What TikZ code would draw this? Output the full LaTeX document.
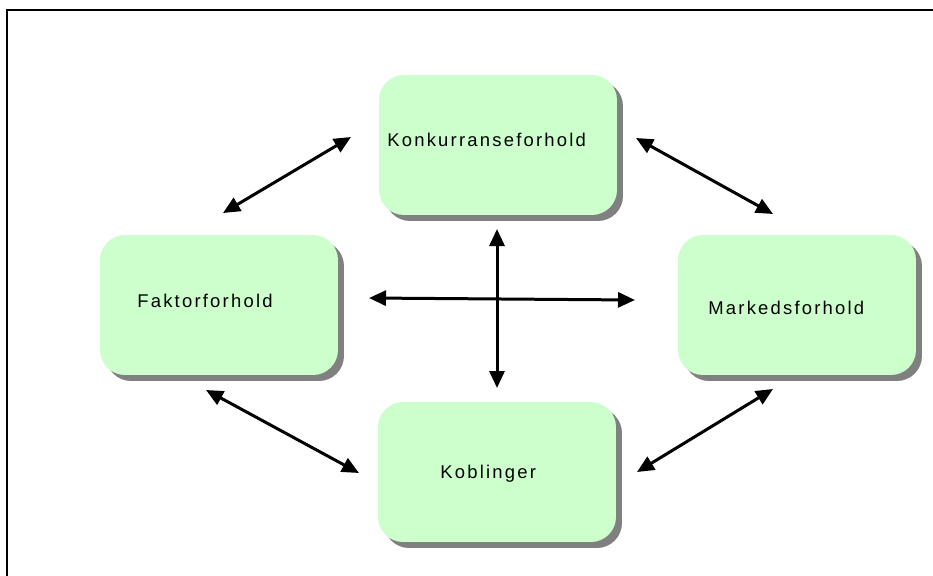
\documentclass[tikz,border=0pt]{standalone}
\usepackage{fontspec}
\newfontfamily\boxfont[LetterSpace=12]{Liberation Sans}
\usepackage{xcolor}
\definecolor{boxGreen}{HTML}{CCFFCC}
\definecolor{shadowGray}{HTML}{808080}
\usetikzlibrary{arrows.meta, shadows, positioning}

\begin{document}
\begin{tikzpicture}[
    x=0.02cm, y=-0.02cm,
    boxNode/.style={fill=boxGreen, rounded corners=0.5cm, minimum width=4.76cm, minimum height=2.8cm, drop shadow={shadow xshift=0.12cm, shadow yshift=-0.12cm, fill=shadowGray, opacity=1}},
    txtNode/.style={font=\boxfont\fontsize{10.5}{12}\selectfont, inner sep=0pt, anchor=base west},
    arrLine/.style={{Triangle[length=0.34cm, width=0.3cm]}-{Triangle[length=0.34cm, width=0.3cm]}, line width=0.06cm},
    frameLine/.style={line width=0.045cm}
]
\useasboundingbox (0,0) rectangle (933,575);

% frame
\draw[frameLine] (7,576) -- (7,10) -- (933,10);

% boxes
\node[boxNode] (konk) at (498,145) {};
\node[boxNode] (fakt) at (219,305) {};
\node[boxNode] (mark) at (797,305) {};
\node[boxNode] (kobl) at (497,472) {};

\node[txtNode] (konkTxt) at (387,146) {Konkurranseforhold};
\node[txtNode] (faktTxt) at (137,307) {Faktorforhold};
\node[txtNode] (markTxt) at (708,314) {Markedsforhold};
\node[txtNode] (koblTxt) at (440,478) {Koblinger};

% arrow ends
\coordinate (fk1) at (223,213);
\coordinate (fk2) at (351,137);
\coordinate (km1) at (636,138);
\coordinate (km2) at (773,214);
\coordinate (fb1) at (206,390);
\coordinate (fb2) at (359,473);
\coordinate (bm1) at (637,472);
\coordinate (bm2) at (773,389);
\coordinate (hz1) at (369,298);
\coordinate (hz2) at (635,300);
\coordinate (vt1) at (497,229);
\coordinate (vt2) at (497,388);

\draw[arrLine] (fk1) -- (fk2);
\draw[arrLine] (km1) -- (km2);
\draw[arrLine] (fb1) -- (fb2);
\draw[arrLine] (bm1) -- (bm2);
\draw[arrLine] (hz1) -- (hz2);
\draw[arrLine] (vt1) -- (vt2);

\end{tikzpicture}
\end{document}
